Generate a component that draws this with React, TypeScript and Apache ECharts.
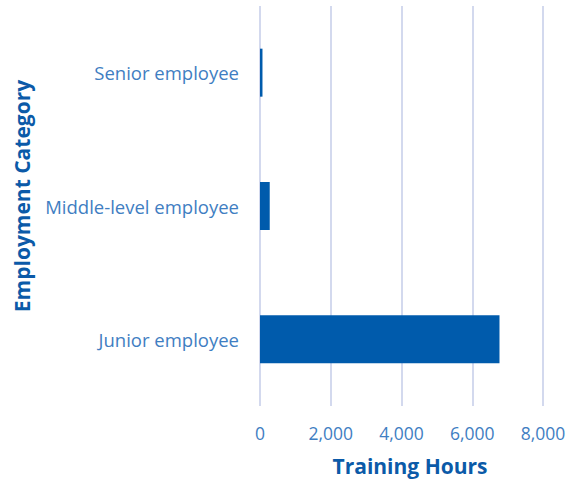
import React, { useEffect, useRef } from "react";
import * as echarts from "echarts";

const categories = ["Junior employee", "Middle-level employee", "Senior employee"];
const trainingHours = [6770, 275, 70];
const xTicks = [0, 2000, 4000, 6000, 8000];

export default function App() {
  const ref = useRef<HTMLDivElement>(null);
  useEffect(() => {
    if (!ref.current) return;
    const chart = echarts.init(ref.current, null, { renderer: "svg" });
    const font = "'Open Sans', 'Noto Sans', sans-serif";
    chart.setOption({
      animation: false,
      backgroundColor: "#ffffff",
      grid: { left: 260, right: 35, top: 6, bottom: 78, containLabel: false },
      xAxis: {
        type: "value",
        min: xTicks[0],
        max: xTicks[xTicks.length - 1],
        interval: 2000,
        axisLine: { show: false },
        axisTick: { show: false },
        splitLine: { show: true, lineStyle: { color: "#D3D9EE", width: 2 } },
        axisLabel: {
          color: "#3F7EC2",
          fontSize: 17.5,
          fontFamily: font,
          margin: 18,
          formatter: (v: number) => v.toLocaleString("en-US"),
        },
      },
      yAxis: {
        type: "category",
        data: categories,
        axisLine: { show: false },
        axisTick: { show: false },
        splitLine: { show: false },
        axisLabel: { color: "#3F7EC2", fontSize: 18.5, fontFamily: font, margin: 21 },
      },
      graphic: [
        {
          type: "text",
          x: 410,
          y: 466,
          style: {
            text: "Training Hours",
            fill: "#0B5AA8",
            fontSize: 21,
            fontWeight: "bold",
            fontFamily: font,
            align: "center",
            verticalAlign: "middle",
          },
        },
        {
          type: "text",
          x: 22,
          y: 196,
          rotation: Math.PI / 2,
          style: {
            text: "Employment Category",
            fill: "#0B5AA8",
            fontSize: 21,
            fontWeight: "bold",
            fontFamily: font,
            align: "center",
            verticalAlign: "middle",
          },
        },
      ],
      series: [
        {
          type: "bar",
          data: trainingHours,
          barWidth: "36%",
          itemStyle: { color: "#005BAC" },
        },
      ],
    });
    return () => chart.dispose();
  }, []);
  return (
    <div
      ref={ref}
      style={{ position: "absolute", left: 0, top: 0, width: 578, height: 484 }}
    />
  );
}
